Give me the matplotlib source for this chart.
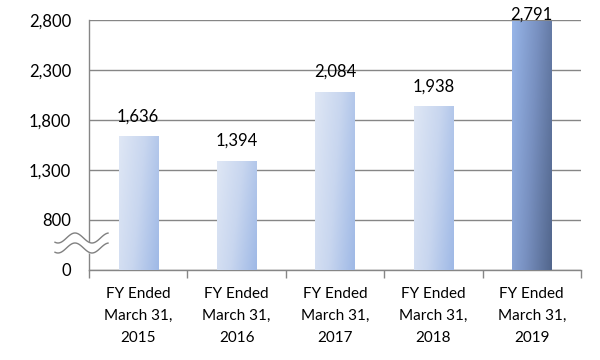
import numpy as np
import matplotlib
matplotlib.use("Agg")
import matplotlib.pyplot as plt
from matplotlib.colors import LinearSegmentedColormap

categories = ["FY Ended\nMarch 31,\n2015", "FY Ended\nMarch 31,\n2016",
              "FY Ended\nMarch 31,\n2017", "FY Ended\nMarch 31,\n2018",
              "FY Ended\nMarch 31,\n2019"]
values = [1636, 1394, 2084, 1938, 2791]
tick_values = [0, 800, 1300, 1800, 2300, 2800]

# the axis is broken between 0 and 800: values above 800 are shifted down
BREAK_LO, BREAK_HI, BREAK_SPAN = 0, 800, 500


def to_axis(v):
    if v <= BREAK_LO:
        return 0.0
    if v < BREAK_HI:
        return v * BREAK_SPAN / BREAK_HI
    return v - BREAK_HI + BREAK_SPAN


plt.rcParams['font.family'] = ['Lato', 'DejaVu Sans']

fig = plt.figure(figsize=(6, 3.6), dpi=100)
ax = fig.add_axes([89 / 600, 1 - 270 / 360, 492 / 600, 250 / 360])

light = LinearSegmentedColormap.from_list("light", ["#dfe7f5", "#c8d6ef", "#9fb9e6"])
dark = LinearSegmentedColormap.from_list("dark", ["#97b5e8", "#7890c0", "#52668c"])

x = np.arange(len(values))
heights = [to_axis(v) for v in values]
bars = ax.bar(x, heights, width=0.4, color="none", edgecolor="none", zorder=3)

gx, gy = np.meshgrid(np.linspace(0, 1, 60), np.linspace(0, 1, 60))
grad = 0.75 * gx + 0.25 * gy  # left-top light, right-bottom dark
for i, (bar, val) in enumerate(zip(bars, values)):
    cmap = dark if i == len(values) - 1 else light
    x0, w, h = bar.get_x(), bar.get_width(), bar.get_height()
    im = ax.imshow(grad, cmap=cmap, extent=[x0, x0 + w, 0, h], origin="upper",
                   aspect="auto", zorder=3, interpolation="bilinear")
    im.set_clip_path(bar)
    label_y = min(h + 120, 2470)
    ax.text(bar.get_x() + w / 2, label_y, f"{val:,}", ha="center", va="bottom",
            fontsize=12, color="#000000", zorder=5)

ax.set_xlim(-0.5, len(values) - 0.5)
ax.set_ylim(0, to_axis(2800))
ax.set_yticks([to_axis(t) for t in tick_values])
ax.set_yticklabels([f"{t:,}" for t in tick_values], fontsize=12)
ax.tick_params(axis="y", length=0, pad=13)
ax.set_xticks(x)
ax.set_xticklabels(categories, fontsize=11, linespacing=1.75)
ax.tick_params(axis="x", length=0, pad=12)
ax.set_xticks(np.arange(len(values) + 1) - 0.5, minor=True)
ax.tick_params(axis="x", which="minor", length=6, color="#868686", width=1)

ax.grid(axis="y", color="#868686", linewidth=1)
ax.set_axisbelow(True)
for side in ["top", "right"]:
    ax.spines[side].set_visible(False)
for side in ["left", "bottom"]:
    ax.spines[side].set_color("#868686")
    ax.spines[side].set_linewidth(1)

# break marker on the value axis (figure pixels)
px = np.linspace(55, 108, 80)
upper = 238 - 5 * np.cos(2 * np.pi * (px - 75) / 34)
lower = upper + 10
ax_fig = fig.add_axes([0, 0, 1, 1], facecolor="none")
ax_fig.set_xlim(0, 600)
ax_fig.set_ylim(360, 0)
ax_fig.axis("off")
ax_fig.fill_between(px, upper, lower, color="white", zorder=1)
ax_fig.plot(px, upper, color="#808080", lw=1)
ax_fig.plot(px, lower, color="#808080", lw=1)

fig.savefig("out.png", dpi=100)
